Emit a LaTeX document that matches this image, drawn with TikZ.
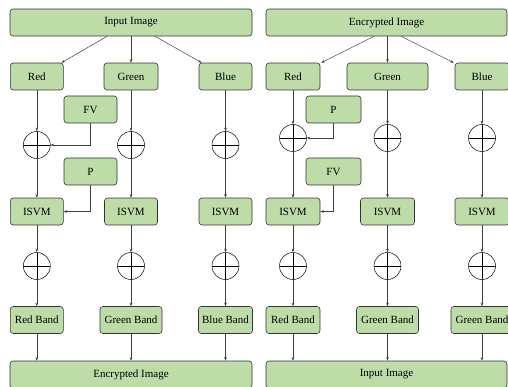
\documentclass[tikz,border=0pt]{standalone}
\usepackage{fontspec}
\setmainfont{Liberation Serif}
\usetikzlibrary{arrows.meta}
\definecolor{boxgreen}{HTML}{BDDCA8}
\tikzset{block/.style={draw=black!80, fill=boxgreen, rectangle, rounded corners=3pt,
		line width=0.6pt, minimum height=27pt, minimum width=53pt, inner sep=1pt,
		font=\fontsize{11}{13}\selectfont},
	xorsum/.style={draw, circle, minimum size=27pt, inner sep=0pt, line width=0.5pt,
		path picture={\draw[line width=0.5pt](path picture bounding box.north)--(path picture bounding box.south)
			(path picture bounding box.west)--(path picture bounding box.east);}},
	arrow/.style={draw=black!75,line width=0.5pt,-{Stealth[length=3.5pt,width=2.6pt]}}}
\begin{document}
\begin{tikzpicture}[x=10pt,y=10pt]
		\clip(0,0)rectangle(50.8,38.6);
		% encryption side
		\node[block,minimum width=242pt](in1)at(13.1,36.35){Input Image};
		\node[block](r1)at(3.68,30.95){Red};
		\node[block,minimum width=54pt](g1)at(13.1,30.95){Green};
		\node[block](b1)at(22.55,30.95){Blue};
		\node[block](fv1)at(9.05,27.65){FV};
		\node[block](p1)at(9.05,21.45){P};
		\foreach \x/\c in{3.68/1,13.1/2,22.55/3}
		{\node[xorsum](a\c)at(\x,24.1){};
			\node[block](s\c)at(\x,17.45){ISVM};
			\node[xorsum](e\c)at(\x,12){};}
		\node[block](rb1)at(3.68,6.6){Red Band};
		\node[block,minimum width=62pt](gb1)at(13.1,6.6){Green Band};
		\node[block,minimum width=54pt](bb1)at(22.55,6.6){Blue Band};
		\node[block,minimum width=242pt](out1)at(13.1,1.15){Encrypted Image};
		
		% decryption side
		\node[block,minimum width=241pt](in2)at(38.65,36.35){Encrypted Image};
		\node[block,minimum width=54pt](r2)at(29.3,30.95){Red};
		\node[block,minimum width=81pt](g2)at(38.75,30.95){Green};
		\node[block,minimum width=54pt](b2)at(48.2,30.95){Blue};
		\node[block,minimum width=55pt](p2)at(33.35,27.65){P};
		\node[block,minimum width=55pt](fv2)at(33.35,21.45){FV};
		\foreach \x/\c in{29.3/4,38.75/5,48.2/6}
		{\node[xorsum](a\c)at(\x,24.8){};
			\node[block,minimum width=54pt](s\c)at(\x,17.45){ISVM};
			\node[xorsum](e\c)at(\x,12){};}
		\node[block,minimum width=54pt](rb2)at(29.3,6.6){Red Band};
		\node[block,minimum width=62pt](gb2)at(38.75,6.6){Green Band};
		\node[block,minimum width=62pt](bb2)at(48.2,6.6){Green Band};
		\node[block,minimum width=241pt](out2)at(38.65,1.15){Input Image};
		
		\draw[arrow]([xshift=-24pt]in1.south)--([xshift=-2pt]r1.north east);
		\draw[arrow](in1.south)--(g1.north);
		\draw[arrow]([xshift=24pt]in1.south)--([xshift=3pt]b1.north west);
		\draw[arrow]([xshift=-12.5pt]in2.south)--([xshift=1pt]r2.north east);
		\draw[arrow](in2.south-|g2.north)--(g2.north);
		\draw[arrow]([xshift=14.5pt]in2.south)--([xshift=-1pt]b2.north west);
		
		\foreach \t/\c/\b/\o in{r1/1/rb1/out1,g1/2/gb1/out1,b1/3/bb1/out1,r2/4/rb2/out2,g2/5/gb2/out2,b2/6/bb2/out2}
		{\draw[arrow](\t.south)--(a\c.north);
			\draw[arrow](a\c.south)--(s\c.north);
			\draw[arrow](s\c.south)--(e\c.north);
			\draw[arrow](e\c.south)--(\b.north);
			\draw[arrow](\b.south)--(\b.south|-\o.north);}
		
		\draw[arrow](fv1.south)|-(a1.east);
		\draw[arrow](p1.south)|-(s1.east);
		\draw[arrow](p2.south)|-(a4.east);
		\draw[arrow](fv2.south)|-(s4.east);
	\end{tikzpicture}
\end{document}
